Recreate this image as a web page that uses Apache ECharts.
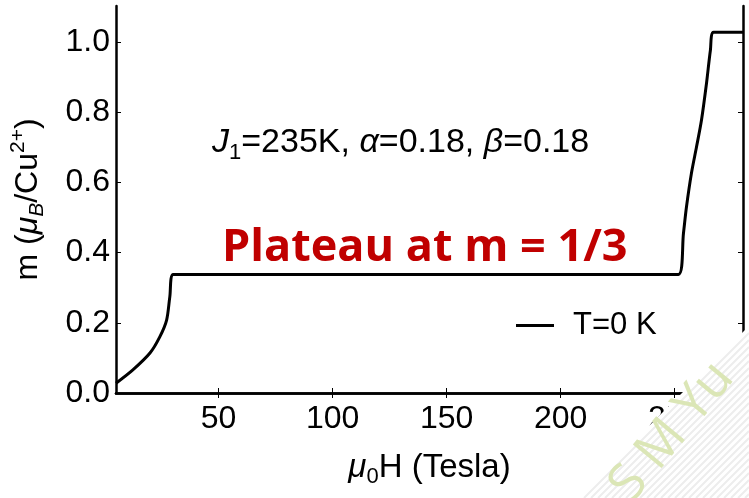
<!DOCTYPE html>
<html><head><meta charset="utf-8">
<script src="https://cdn.jsdelivr.net/npm/echarts@6/dist/echarts.min.js"></script>
<style>html,body{margin:0;padding:0;background:#fff}#c{width:749px;height:498px}</style>
</head><body><div id="c"></div>
<script>
// ---- data ----
const fieldH = [5, 12.4, 19.9, 24.2, 27.2, 28.6, 30.1, 251.7, 253.9, 255.2, 257.4, 259.6, 261.8, 264.0, 265.7, 267.1, 280];
const magM   = [0.028, 0.066, 0.114, 0.160, 0.208, 0.274, 0.338, 0.338, 0.456, 0.530, 0.627, 0.701, 0.778, 0.883, 0.977, 1.028, 1.028];
const xTicks = [50, 100, 150, 200, 250];
const yTicks = [0, 0.2, 0.4, 0.6, 0.8, 1.0];
const seriesName = 'T=0 K';
const paramText = '{i|J}{sub|1}{t|=235K, }{i|α}{t|=0.18, }{i|β}{t|=0.18}';
const plateauText = 'Plateau at m = 1/3';
const watermarkText = 'S M Yu';

const FF = "'Liberation Sans', Arial, Helvetica, sans-serif";
const chart = echarts.init(document.getElementById('c'), null, {renderer: 'canvas'});

const points = fieldH.map((h, i) => [h, magM[i]]);

const axLine = {show: true, lineStyle: {color: '#000', width: 2.5}};
const tickIn = (vals) => ({show: true, inside: true, length: 5, lineStyle: {color: '#000', width: 1}, customValues: vals});

// watermark stripes (decoration)
const stripes = [];
for (let c = 1082; c < 1250; c += 7) {
  stripes.push({type: 'line', silent: true, z: 101,
    shape: {x1: c - 498, y1: 498, x2: 749, y2: c - 749},
    style: {stroke: '#ededed', lineWidth: 2}});
}

chart.setOption({
  animation: false,
  backgroundColor: '#fff',
  grid: {left: 116, right: 6, top: 6, bottom: 105, containLabel: false},
  legend: {
    data: [seriesName], left: 511, top: 305, icon: 'rect', itemWidth: 38, itemHeight: 3,
    itemStyle: {color: '#000'},
    textStyle: {fontFamily: FF, fontSize: 31, color: '#000', padding: [0, 0, 0, 14]}
  },
  xAxis: [{
    type: 'value', min: 5, max: 280, position: 'bottom',
    axisLine: axLine, axisTick: tickIn(xTicks), splitLine: {show: false},
    axisLabel: {customValues: xTicks, fontFamily: FF, fontSize: 32, color: '#000', margin: 10},
    name: '{i|μ}{sub|0}{t|H (Tesla)}', nameLocation: 'middle', nameGap: 55,
    nameTextStyle: {fontFamily: FF, fontSize: 33, color: '#000', rich: {
      t: {fontFamily: FF, fontSize: 33, lineHeight: 40, color: '#000'},
      i: {fontFamily: FF, fontSize: 33, fontStyle: 'italic', lineHeight: 40, color: '#000'},
      sub: {fontFamily: FF, fontSize: 22, verticalAlign: 'bottom', lineHeight: 22, color: '#000'}
    }}
  }, {
    type: 'value', min: 5, max: 280, position: 'top',
    axisLine: axLine, axisTick: tickIn(xTicks), axisLabel: {show: false}, splitLine: {show: false}
  }],
  yAxis: [{
    type: 'value', min: 0, max: 1.103, position: 'left',
    axisLine: axLine, axisTick: tickIn(yTicks), splitLine: {show: false},
    axisLabel: {customValues: yTicks, fontFamily: FF, fontSize: 32, color: '#000', margin: 6,
      formatter: v => v.toFixed(1)},
    name: '{t|m (}{i|μ}{sub|B}{t|/Cu}{sup|2+}{t|)}', nameLocation: 'middle', nameRotate: 90, nameGap: 68,
    nameTextStyle: {fontFamily: FF, fontSize: 32, color: '#000', rich: {
      t: {fontFamily: FF, fontSize: 32, lineHeight: 40, color: '#000'},
      i: {fontFamily: FF, fontSize: 32, fontStyle: 'italic', lineHeight: 40, color: '#000'},
      sub: {fontFamily: FF, fontSize: 21, fontStyle: 'italic', verticalAlign: 'bottom', lineHeight: 22, color: '#000'},
      sup: {fontFamily: FF, fontSize: 21, verticalAlign: 'top', lineHeight: 22, color: '#000'}
    }}
  }, {
    type: 'value', min: 0, max: 1.103, position: 'right',
    axisLine: axLine, axisTick: tickIn(yTicks), axisLabel: {show: false}, splitLine: {show: false}
  }],
  series: [{
    name: seriesName, type: 'line', data: points, xAxisIndex: 0, yAxisIndex: 0,
    showSymbol: false, symbol: 'none', smooth: 0.3,
    lineStyle: {color: '#000', width: 3}, itemStyle: {color: '#000'}, z: 5
  }],
  graphic: [
    {type: 'text', x: 212, y: 143, z: 50, style: {
      text: paramText, align: 'left', verticalAlign: 'middle', fill: '#000',
      font: '34px ' + FF,
      rich: {
        t: {fontFamily: FF, fontSize: 34, lineHeight: 42, fill: '#000'},
        i: {fontFamily: FF, fontSize: 34, fontStyle: 'italic', lineHeight: 42, fill: '#000'},
        sub: {fontFamily: FF, fontSize: 22, verticalAlign: 'bottom', lineHeight: 24, fill: '#000'}
      }}},
    {type: 'text', x: 222, y: 248, z: 50, style: {
      text: plateauText, align: 'left', verticalAlign: 'middle', fill: '#c00000',
      font: "bold 45px 'Open Sans', 'Noto Sans', sans-serif"}},
    {type: 'polygon', silent: true, z: 100,
      shape: {points: [[577, 498], [749, 326], [749, 498]]},
      style: {fill: '#ffffff'}},
    ...stripes,
    {type: 'text', x: 672, y: 432, rotation: Math.PI * 0.28, z: 102, silent: true, style: {
      text: watermarkText, align: 'center', verticalAlign: 'middle', fill: '#dbe6b6',
      font: "52px 'Open Sans', sans-serif"}}
  ]
});
</script>
</body></html>
